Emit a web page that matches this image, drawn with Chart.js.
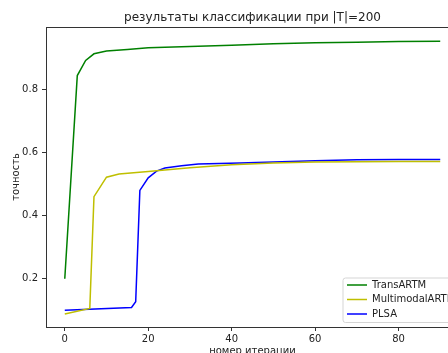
<!DOCTYPE html>
<html>
<head>
<meta charset="utf-8">
<script src="https://cdn.jsdelivr.net/npm/chart.js@4.4.0/dist/chart.umd.min.js"></script>
<style>
    html, body { margin: 0; padding: 0; background: #fff; overflow: hidden; width: 448px; height: 353px; }
    canvas { display: block; }
</style>
</head>
<body>
<canvas id="myChart" width="470" height="366"></canvas>
<script>
        const chartTitle = 'результаты классификации при |T|=200';
        const seriesNames = ['TransARTM', 'MultimodalARTM', 'PLSA'];
        const seriesColors = ['#008000', '#bfbf00', '#0000ff'];

        const transX = [0, 3, 5, 7, 10, 15, 20, 30, 40, 50, 60, 70, 80, 90];
        const transY = [0.200, 0.844, 0.892, 0.913, 0.922, 0.927, 0.932, 0.936, 0.940, 0.945, 0.948, 0.950, 0.952, 0.953];

        const multiX = [0, 6, 7, 10, 13, 20, 30, 40, 50, 60, 70, 80, 90];
        const multiY = [0.088, 0.106, 0.460, 0.522, 0.532, 0.540, 0.552, 0.561, 0.567, 0.570, 0.571, 0.572, 0.572];

        const plsaX = [0, 16, 17, 18, 20, 22, 24, 28, 32, 42, 50, 60, 70, 80, 90];
        const plsaY = [0.100, 0.109, 0.127, 0.480, 0.520, 0.541, 0.551, 0.558, 0.564, 0.567, 0.570, 0.574, 0.577, 0.578, 0.578];

        const xTicks = [0, 20, 40, 60, 80];
        const yTicks = [0.2, 0.4, 0.6, 0.8];

        function toPoints(xs, ys) {
            return xs.map((x, i) => ({ x: x, y: ys[i] }));
        }

        const allX = [transX, multiX, plsaX];
        const allY = [transY, multiY, plsaY];

        let data = {
            datasets: seriesNames.map((name, i) => ({
                label: name,
                data: toPoints(allX[i], allY[i]),
                borderColor: seriesColors[i],
                backgroundColor: seriesColors[i],
                borderWidth: 1.5,
                pointRadius: 0,
                tension: 0,
                showLine: true
            }))
        };

        // matplotlib-like frame, title over the axes, and legend box
        const framePlugin = {
            id: 'frame',
            afterDatasetsDraw(chart) {
                const a = chart.chartArea;
                const c = chart.ctx;
                c.save();
                c.strokeStyle = '#333';
                c.lineWidth = 1;
                c.strokeRect(Math.round(a.left) + 0.5, Math.round(a.top) + 0.5, Math.round(a.right - a.left), Math.round(a.bottom - a.top));

                c.font = '12px "DejaVu Sans"';
                c.fillStyle = '#222';
                c.textAlign = 'center';
                c.textBaseline = 'middle';
                c.fillText(chartTitle, (a.left + a.right) / 2, a.top - 9);

                const boxR = a.right - 4, boxB = a.bottom - 4.5;
                const boxL = boxR - 112, boxT = boxB - 44.5;
                c.beginPath();
                c.roundRect(boxL, boxT, boxR - boxL, boxB - boxT, 2.5);
                c.fillStyle = 'rgba(255,255,255,0.8)';
                c.fill();
                c.strokeStyle = '#d5d5d5';
                c.stroke();

                c.font = '10px "DejaVu Sans"';
                c.textAlign = 'left';
                chart.data.datasets.forEach((ds, i) => {
                    const y = boxT + 7 + i * 14.5;
                    c.beginPath();
                    c.moveTo(boxL + 4, y);
                    c.lineTo(boxL + 24, y);
                    c.strokeStyle = ds.borderColor;
                    c.lineWidth = 1.5;
                    c.stroke();
                    c.fillStyle = '#222';
                    c.fillText(ds.label, boxL + 29, y);
                });
                c.restore();
            }
        };

        const ctx = document.getElementById('myChart').getContext('2d');
        const myChart = new Chart(ctx, {
            type: 'scatter',
            data: data,
            plugins: [framePlugin],
            options: {
                responsive: false,
                animation: false,
                layout: { padding: { left: 0, right: 11, top: 27, bottom: 0 } },
                plugins: {
                    legend: { display: false },
                    tooltip: { enabled: false }
                },
                scales: {
                    x: {
                        type: 'linear',
                        min: -4.5,
                        max: 94.5,
                        afterFit: (s) => { s.height = 39; },
                        afterBuildTicks: (s) => { s.ticks = xTicks.map(v => ({ value: v })); },
                        border: { display: false },
                        grid: { display: true, drawOnChartArea: false, drawTicks: true, tickLength: 4, color: '#333' },
                        ticks: {
                            color: '#222',
                            padding: 2,
                            maxRotation: 0,
                            font: { family: 'DejaVu Sans', size: 10 }
                        },
                        title: {
                            display: true,
                            text: 'номер итерации',
                            color: '#222',
                            font: { family: 'DejaVu Sans', size: 10, lineHeight: 1.2 },
                            padding: { top: 0, bottom: 9 }
                        }
                    },
                    y: {
                        min: 0.047,
                        max: 0.998,
                        afterFit: (s) => { s.width = 46; },
                        afterBuildTicks: (s) => { s.ticks = yTicks.map(v => ({ value: v })); },
                        border: { display: false },
                        grid: { display: true, drawOnChartArea: false, drawTicks: true, tickLength: 4, color: '#333' },
                        ticks: {
                            color: '#222',
                            padding: 4,
                            font: { family: 'DejaVu Sans', size: 10 },
                            callback: (v) => v.toFixed(1)
                        },
                        title: {
                            display: true,
                            text: 'точность',
                            color: '#222',
                            font: { family: 'DejaVu Sans', size: 10, lineHeight: 1.2 },
                            padding: { top: 10, bottom: 0 }
                        }
                    }
                }
            }
        });
</script>
</body>
</html>
